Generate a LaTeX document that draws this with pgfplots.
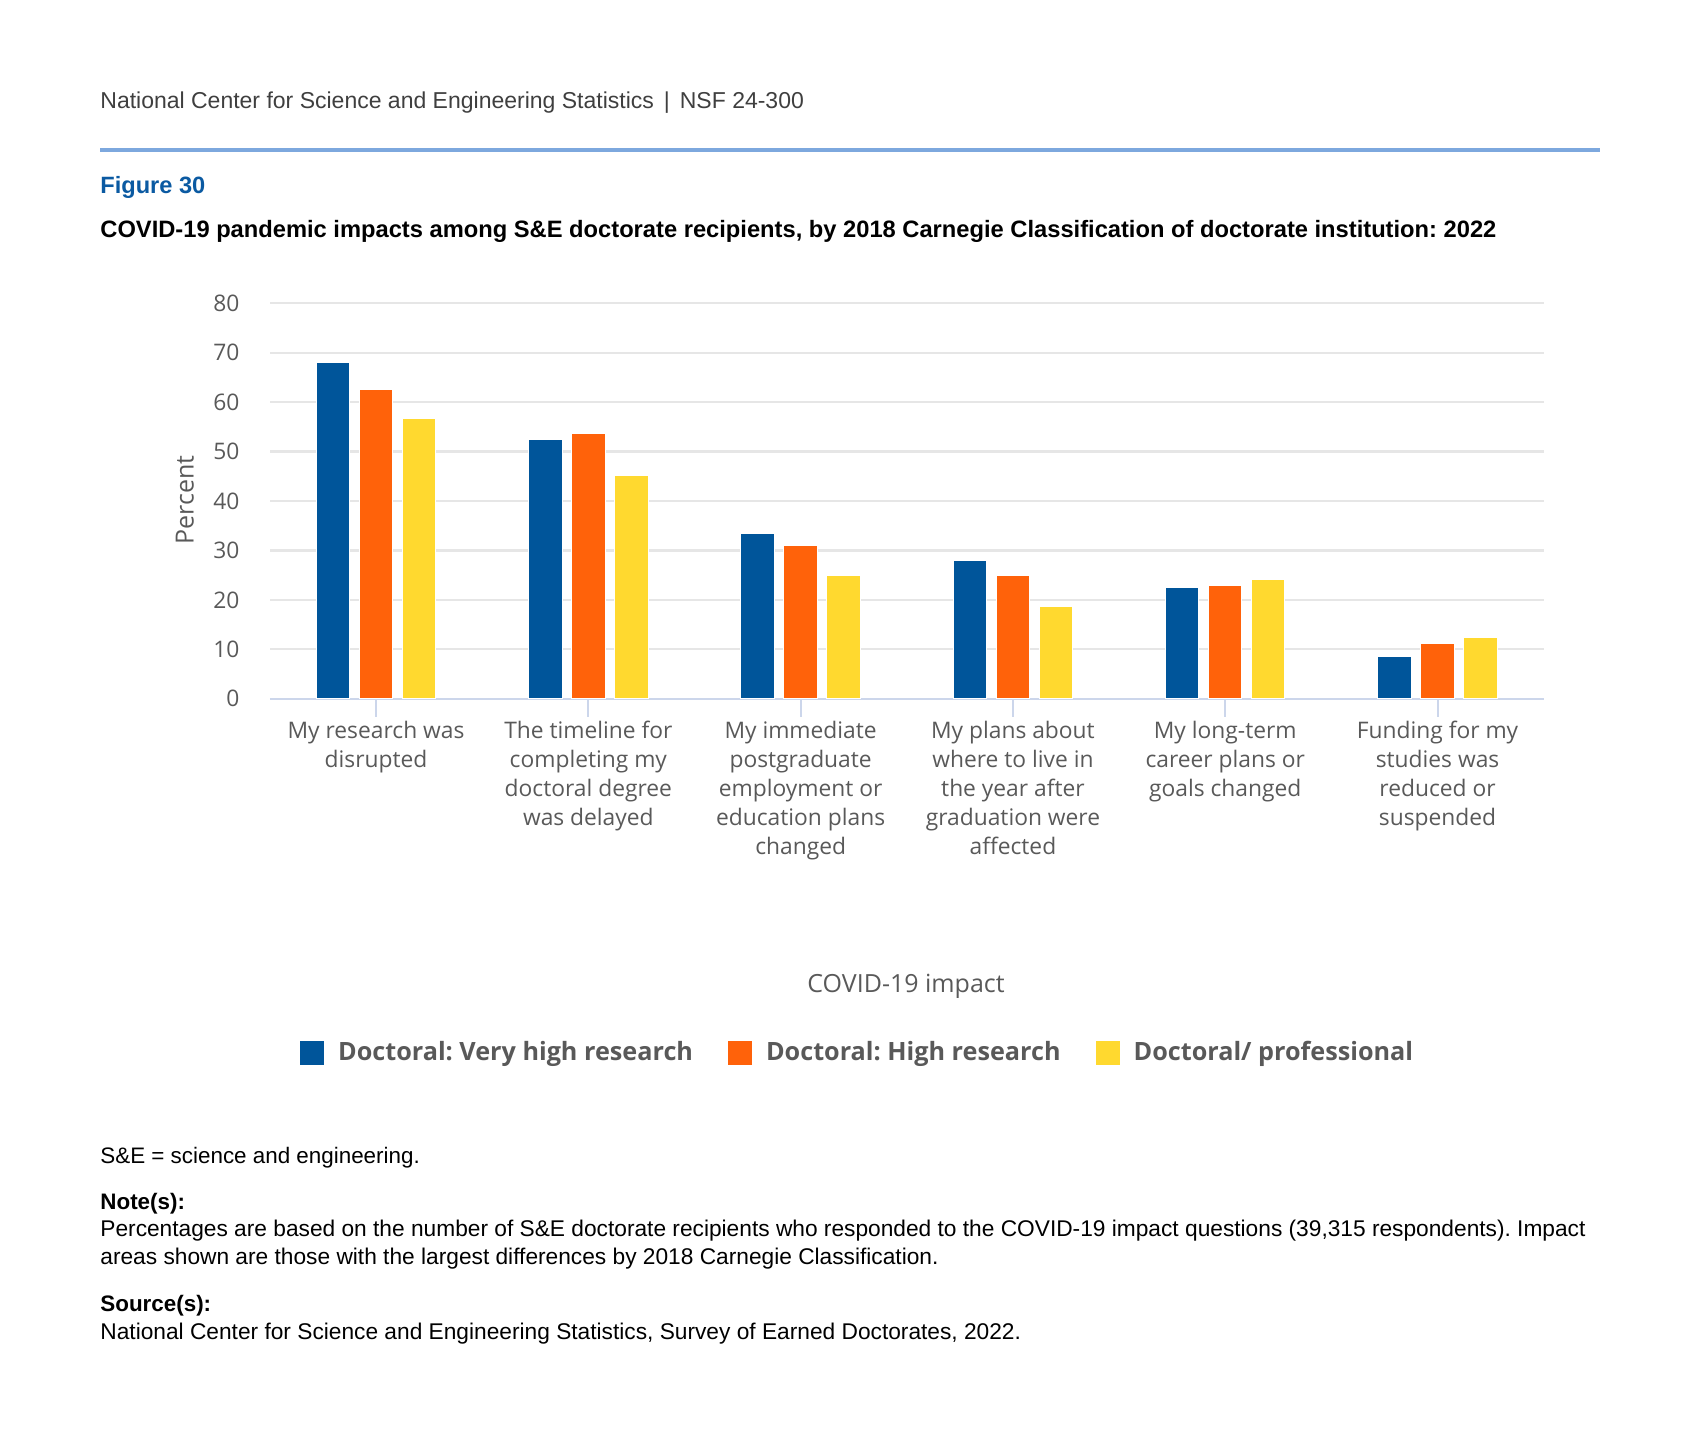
\documentclass[border=0pt]{standalone}
\usepackage{fontspec}
\setmainfont{Liberation Sans}
\newfontfamily\osans{Open Sans}
\usepackage{pgfplots}
\pgfplotsset{compat=1.18}
\definecolor{cBlue}{HTML}{00559A}
\definecolor{cOrange}{HTML}{FF620A}
\definecolor{cYellow}{HTML}{FFD92F}
\definecolor{axisgray}{HTML}{CCD6EB}
\definecolor{gridgray}{HTML}{E6E6E6}
\definecolor{labelgray}{HTML}{595959}
\definecolor{figblue}{HTML}{0B5AA2}
\definecolor{rulecol}{HTML}{7DA8DE}
\definecolor{headgray}{HTML}{3F3F3F}
\begin{document}
\frenchspacing
\begin{tikzpicture}
\begin{scope}[x=0.5pt,y=-0.5pt]
\path[use as bounding box] (0,0) rectangle (1699,1455);
\node[anchor=base west, inner sep=0, font=\fontsize{11.5}{14}\selectfont, text=headgray] at (100,108.3) {National Center for Science and Engineering Statistics\hspace{5pt}|\hspace{5pt}NSF 24-300};
\fill[rulecol] (100,148) rectangle (1600,151.7);
\node[anchor=base west, inner sep=0, font=\fontsize{11.8}{14}\selectfont\bfseries, text=figblue] at (100,193.3) {Figure 30};
\node[anchor=base west, inner sep=0, font=\fontsize{11.85}{14}\selectfont\bfseries] at (100,237.3) {COVID-19 pandemic impacts among S\&E doctorate recipients, by 2018 Carnegie Classification of doctorate institution: 2022};
\node[anchor=base west, inner sep=0, font=\fontsize{11.2}{14}\selectfont] at (100,1163.3) {S\&E = science and engineering.};
\node[anchor=base west, inner sep=0, font=\fontsize{11.2}{14}\selectfont\bfseries] at (100,1209.5) {Note(s):};
\node[anchor=base west, inner sep=0, font=\fontsize{11.36}{14}\selectfont] at (100,1236.7) {Percentages are based on the number of S\&E doctorate recipients who responded to the COVID-19 impact questions (39,315 respondents). Impact};
\node[anchor=base west, inner sep=0, font=\fontsize{11.36}{14}\selectfont] at (100,1264) {areas shown are those with the largest differences by 2018 Carnegie Classification.};
\node[anchor=base west, inner sep=0, font=\fontsize{11.2}{14}\selectfont\bfseries] at (100,1311.7) {Source(s):};
\node[anchor=base west, inner sep=0, font=\fontsize{11.36}{14}\selectfont] at (100,1339.3) {National Center for Science and Engineering Statistics, Survey of Earned Doctorates, 2022.};
\end{scope}
\begin{axis}[
  at={(134.95pt,-349.35pt)}, anchor=south west,
  scale only axis, width=636.9pt, height=197.7pt,
  xmin=-0.5, xmax=5.5, ymin=0, ymax=80,
  ytick={0,10,...,80},
  xtick={0,...,5},
  xticklabels={{My research was\\disrupted},{The timeline for\\completing my\\doctoral degree\\was delayed},{My immediate\\postgraduate\\employment or\\education plans\\changed},{My plans about\\where to live in\\the year after\\graduation were\\affected},{My long-term\\career plans or\\goals changed},{Funding for my\\studies was\\reduced or\\suspended}},
  axis x line*=bottom, axis y line*=left,
  x axis line style={axisgray, line width=1pt},
  y axis line style={draw=none},
  ymajorgrids, grid style={gridgray, line width=1.1pt},
  tick align=outside, major tick length=9pt,
  xtick style={axisgray, line width=1pt},
  ytick style={draw=none},
  /pgf/number format/assume math mode=true,
  xticklabel style={font=\osans\fontsize{11.4}{14.5}\selectfont, text=labelgray, align=center, anchor=north, inner sep=0pt, yshift=-2pt},
  yticklabel style={font=\osans\fontsize{11.4}{14.5}\selectfont, text=labelgray, anchor=east, inner sep=0pt, xshift=-6pt},
  ylabel={Percent},
  ylabel style={font=\osans\fontsize{12.5}{15}\selectfont, text=labelgray, at={(axis description cs:-0.0667,0.5025)}, anchor=center, rotate=0},
  xlabel={COVID-19 impact},
  xlabel style={font=\osans\fontsize{12.5}{15}\selectfont, text=labelgray, at={(axis description cs:0.4994,-0.7435)}, anchor=base},
  legend columns=3,
  legend style={draw=none, fill=none, at={(axis description cs:0.4618,-0.895)}, anchor=center,
    font=\osans\bfseries\fontsize{12.6}{15}\selectfont, text=labelgray,
    /tikz/every odd column/.append style={column sep=4.5pt},
    /tikz/every even column/.append style={column sep=15pt}},
  legend image code/.code={\fill[#1] (0pt,-6.25pt) rectangle (12.5pt,6.25pt);},
]
\addplot[ybar, bar width=0.157, bar shift=-0.2025, fill=cBlue, draw=white, line width=0.5pt] coordinates {(0,68.0) (1,52.4) (2,33.4) (3,28.0) (4,22.5) (5,8.6)};
\addlegendentry{Doctoral: Very high research}
\addplot[ybar, bar width=0.157, bar shift=0, fill=cOrange, draw=white, line width=0.5pt] coordinates {(0,62.6) (1,53.6) (2,31.0) (3,25.0) (4,23.0) (5,11.1)};
\addlegendentry{Doctoral: High research}
\addplot[ybar, bar width=0.157, bar shift=0.2025, fill=cYellow, draw=white, line width=0.5pt] coordinates {(0,56.7) (1,45.1) (2,25.0) (3,18.6) (4,24.2) (5,12.4)};
\addlegendentry{Doctoral/ professional}
\end{axis}
\end{tikzpicture}
\end{document}
